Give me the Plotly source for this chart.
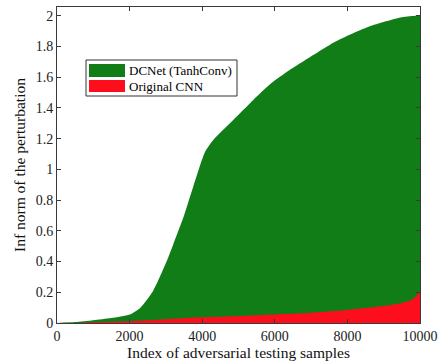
import plotly.graph_objects as go

# ---- data ----
dcnet_x = [0, 500, 1000, 1500, 2000, 2300, 2650, 3000, 3200, 3500, 3750, 4080,
           4300, 4700, 5000, 5400, 5900, 6400, 6800, 7700, 8600, 9500, 9900, 10000]
dcnet_y = [0, 0.006, 0.018, 0.032, 0.055, 0.10, 0.21, 0.39, 0.51, 0.70, 0.885, 1.115,
           1.19, 1.285, 1.355, 1.45, 1.56, 1.645, 1.705, 1.835, 1.93, 1.99, 2.0, 2.0]

cnn_x = [0, 500, 700, 1000, 2000, 3000, 4000, 5000, 6000, 7000, 8000, 9000,
         9500, 9800, 9950, 10000]
cnn_y = [0, 0, 0.002, 0.005, 0.012, 0.025, 0.037, 0.046, 0.056, 0.067, 0.085, 0.11,
         0.13, 0.155, 0.19, 0.21]

series_names = ["DCNet (TanhConv)", "Original CNN"]
x_ticks = [0, 2000, 4000, 6000, 8000, 10000]
y_ticks = [0, 0.2, 0.4, 0.6, 0.8, 1, 1.2, 1.4, 1.6, 1.8, 2]

GREEN = "rgb(16,125,22)"
RED = "rgb(252,14,28)"
FONT = "Liberation Serif"
AXC = "#3a3a3a"

W, H = 438, 362
ML, MR, MT, MB = 57, 18, 7, 39
PW, PH = W - ML - MR, H - MT - MB


def px(x):
    return (x - ML) / PW


def py(y):
    return (H - MB - y) / PH


fig = go.Figure()
fig.add_trace(go.Scatter(x=dcnet_x, y=dcnet_y, mode="lines", fill="tozeroy",
                         fillcolor=GREEN, line=dict(width=0, color=GREEN, shape="spline", smoothing=0.6),
                         name=series_names[0], showlegend=False, hoverinfo="skip"))
fig.add_trace(go.Scatter(x=cnn_x, y=cnn_y, mode="lines", fill="tozeroy",
                         fillcolor=RED, line=dict(width=0, color=RED, shape="spline", smoothing=0.6),
                         name=series_names[1], showlegend=False, hoverinfo="skip"))

# manual legend (box + swatches + labels)
shapes = [
    dict(type="rect", xref="paper", yref="paper", x0=px(86), x1=px(237),
         y0=py(96), y1=py(60), line=dict(color="#333", width=1), fillcolor="white"),
    dict(type="rect", xref="paper", yref="paper", x0=px(89), x1=px(125),
         y0=py(77), y1=py(64), line=dict(width=0), fillcolor=GREEN),
    dict(type="rect", xref="paper", yref="paper", x0=px(89), x1=px(125),
         y0=py(92), y1=py(80), line=dict(width=0), fillcolor=RED),
]
annotations = [
    dict(xref="paper", yref="paper", x=px(127), y=py(70.5), text=series_names[0],
         showarrow=False, xanchor="left", yanchor="middle",
         font=dict(family=FONT, size=13, color="black")),
    dict(xref="paper", yref="paper", x=px(127), y=py(86), text=series_names[1],
         showarrow=False, xanchor="left", yanchor="middle",
         font=dict(family=FONT, size=13, color="black")),
]

fig.update_layout(
    width=W, height=H,
    margin=dict(l=ML, r=MR, t=MT, b=MB, pad=0, autoexpand=False),
    paper_bgcolor="white", plot_bgcolor="white",
    font=dict(family=FONT, size=14, color="#222"),
    shapes=shapes, annotations=annotations,
    xaxis=dict(range=[0, 10000], tickvals=x_ticks, tickformat="d", automargin=False,
               ticks="inside", ticklen=4, tickcolor=AXC, showline=True,
               linecolor=AXC, linewidth=1, mirror="ticks", showgrid=False,
               zeroline=False, tickfont=dict(family=FONT, size=14, color="#222"),
               title=dict(text="Index of adversarial testing samples", standoff=2,
                          font=dict(family=FONT, size=15.5, color="#111"))),
    yaxis=dict(range=[0, 2.057], tickvals=y_ticks, automargin=False,
               ticks="inside", ticklen=4, tickcolor=AXC, showline=True,
               linecolor=AXC, linewidth=1, mirror="ticks", showgrid=False,
               zeroline=False, tickfont=dict(family=FONT, size=14, color="#222"),
               title=dict(text="Inf norm of the perturbation", standoff=6,
                          font=dict(family=FONT, size=15.5, color="#111"))),
)

fig.write_html("out.html", config={"displayModeBar": False},
               post_script="document.body.style.margin='0';document.body.style.overflow='hidden';")
